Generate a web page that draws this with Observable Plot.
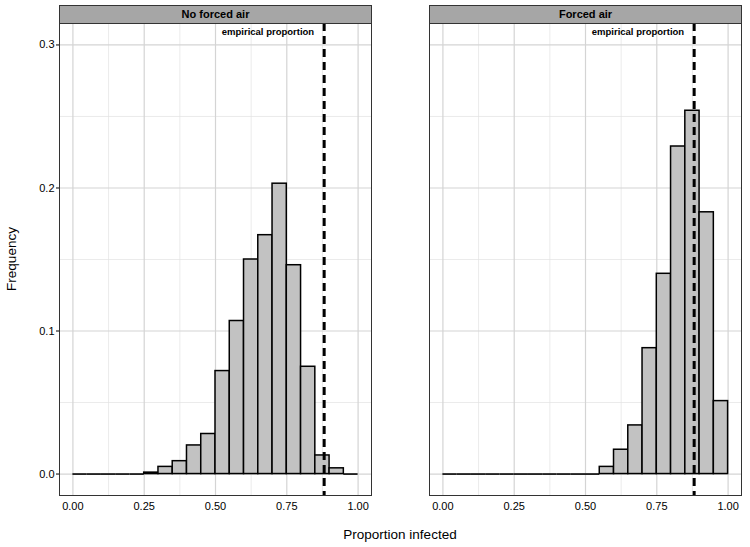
<!DOCTYPE html>
<html>
<head>
<meta charset="utf-8">
<script src="https://cdn.jsdelivr.net/npm/d3@7"></script>
<script src="https://cdn.jsdelivr.net/npm/@observablehq/plot@0.6"></script>
<style>
  html, body { margin: 0; padding: 0; background: #fff; }
  #chart { width: 750px; height: 547px; }
</style>
</head>
<body>
<div id="chart"></div>
<script>
// ---- Data ----
const panels = ["No forced air", "Forced air"];
const binWidth = 0.05;
const binStarts = [0.00, 0.05, 0.10, 0.15, 0.20, 0.25, 0.30, 0.35, 0.40, 0.45,
                   0.50, 0.55, 0.60, 0.65, 0.70, 0.75, 0.80, 0.85, 0.90, 0.95];
const freqNoForcedAir = [0, 0, 0, 0, 0, 0.001, 0.005, 0.009, 0.020, 0.028,
                         0.072, 0.107, 0.150, 0.167, 0.203, 0.146, 0.075, 0.013, 0.004, 0];
const freqForcedAir   = [0, 0, 0, 0, 0, 0, 0, 0, 0, 0,
                         0, 0.005, 0.017, 0.034, 0.088, 0.140, 0.229, 0.254, 0.183, 0.051];
const empiricalProportion = [0.881, 0.881];
const annotationLabel = "empirical proportion";
const xTicks = [0, 0.25, 0.5, 0.75, 1];
const xMinor = [0.125, 0.375, 0.625, 0.875];
const yTicks = [0, 0.1, 0.2, 0.3];
const yMinor = [0.05, 0.15, 0.25];
const xLabel = "Proportion infected";
const yLabel = "Frequency";

// ---- Tables built from the arrays ----
const bins = [];
binStarts.forEach((b, i) => {
  bins.push({panel: panels[0], x0: b, x1: b + binWidth, freq: freqNoForcedAir[i]});
  bins.push({panel: panels[1], x0: b, x1: b + binWidth, freq: freqForcedAir[i]});
});
const empirical = panels.map((p, i) => ({panel: p, value: empiricalProportion[i]}));

const W = 750, H = 547;
const mTop = 23, mBottom = 52, mLeft = 58, mRight = 8;
const panelH = H - mTop - mBottom;

const plot = Plot.plot({
  width: W,
  height: H,
  marginTop: mTop,
  marginBottom: mBottom,
  marginLeft: mLeft,
  marginRight: mRight,
  style: {fontFamily: "'Liberation Sans', Arial, Helvetica, sans-serif", fontSize: "11px", color: "#000", background: "#fff"},
  fx: {domain: panels, axis: null, padding: 0.156},
  x: {domain: [-0.047, 1.047], ticks: xTicks, tickFormat: d3.format(".2f"), tickSize: 0, tickPadding: 7, label: null},
  y: {domain: [-0.015, 0.315], ticks: yTicks, tickFormat: d3.format(".1f"), tickSize: 3, tickPadding: 2, label: null},
  marks: [
    Plot.ruleX(xMinor, {stroke: "#e2e2e2", strokeWidth: 0.7}),
    Plot.ruleY(yMinor, {stroke: "#e2e2e2", strokeWidth: 0.7}),
    Plot.ruleX(xTicks, {stroke: "#d4d4d4", strokeWidth: 1.2}),
    Plot.ruleY(yTicks, {stroke: "#d4d4d4", strokeWidth: 1.2}),
    Plot.ruleY(bins.filter(d => d.freq === 0), {fx: "panel", x1: "x0", x2: "x1", y: "freq", stroke: "#000", strokeWidth: 1.6}),
    Plot.rectY(bins.filter(d => d.freq > 0), {fx: "panel", x1: "x0", x2: "x1", y: "freq", fill: "#c2c2c2", stroke: "#000", strokeWidth: 1.5}),
    Plot.ruleX(empirical, {fx: "panel", x: "value", stroke: "#000", strokeWidth: 3, strokeDasharray: "8,5"}),
    Plot.text(empirical, {fx: "panel", x: "value", frameAnchor: "top", lineAnchor: "middle", dy: 8, dx: -10, textAnchor: "end", text: () => annotationLabel, fontWeight: "bold", fontSize: 9.5, fill: "#000"}),
    Plot.frame({stroke: "#333", strokeWidth: 1}),
    Plot.frame({fill: "#a6a6a6", stroke: "#333", strokeWidth: 1, insetTop: -18, insetBottom: panelH}),
    Plot.text(panels, {fx: d => d, text: d => d, frameAnchor: "top", lineAnchor: "middle", dy: -9, fontWeight: "bold", fontSize: 11, fill: "#000"})
  ]
});

document.getElementById("chart").appendChild(plot);

// Axis titles
const svg = d3.select(plot.tagName.toLowerCase() === "svg" ? plot : plot.querySelector("svg"));
svg.append("text")
  .attr("x", (mLeft + (W - mRight)) / 2)
  .attr("y", 534)
  .attr("text-anchor", "middle")
  .attr("dominant-baseline", "central")
  .attr("font-size", 13.5)
  .attr("fill", "#000")
  .text(xLabel);
svg.append("text")
  .attr("transform", `translate(11,${mTop + panelH / 2}) rotate(-90)`)
  .attr("text-anchor", "middle")
  .attr("dominant-baseline", "central")
  .attr("font-size", 13.5)
  .attr("fill", "#000")
  .text(yLabel);
</script>
</body>
</html>
